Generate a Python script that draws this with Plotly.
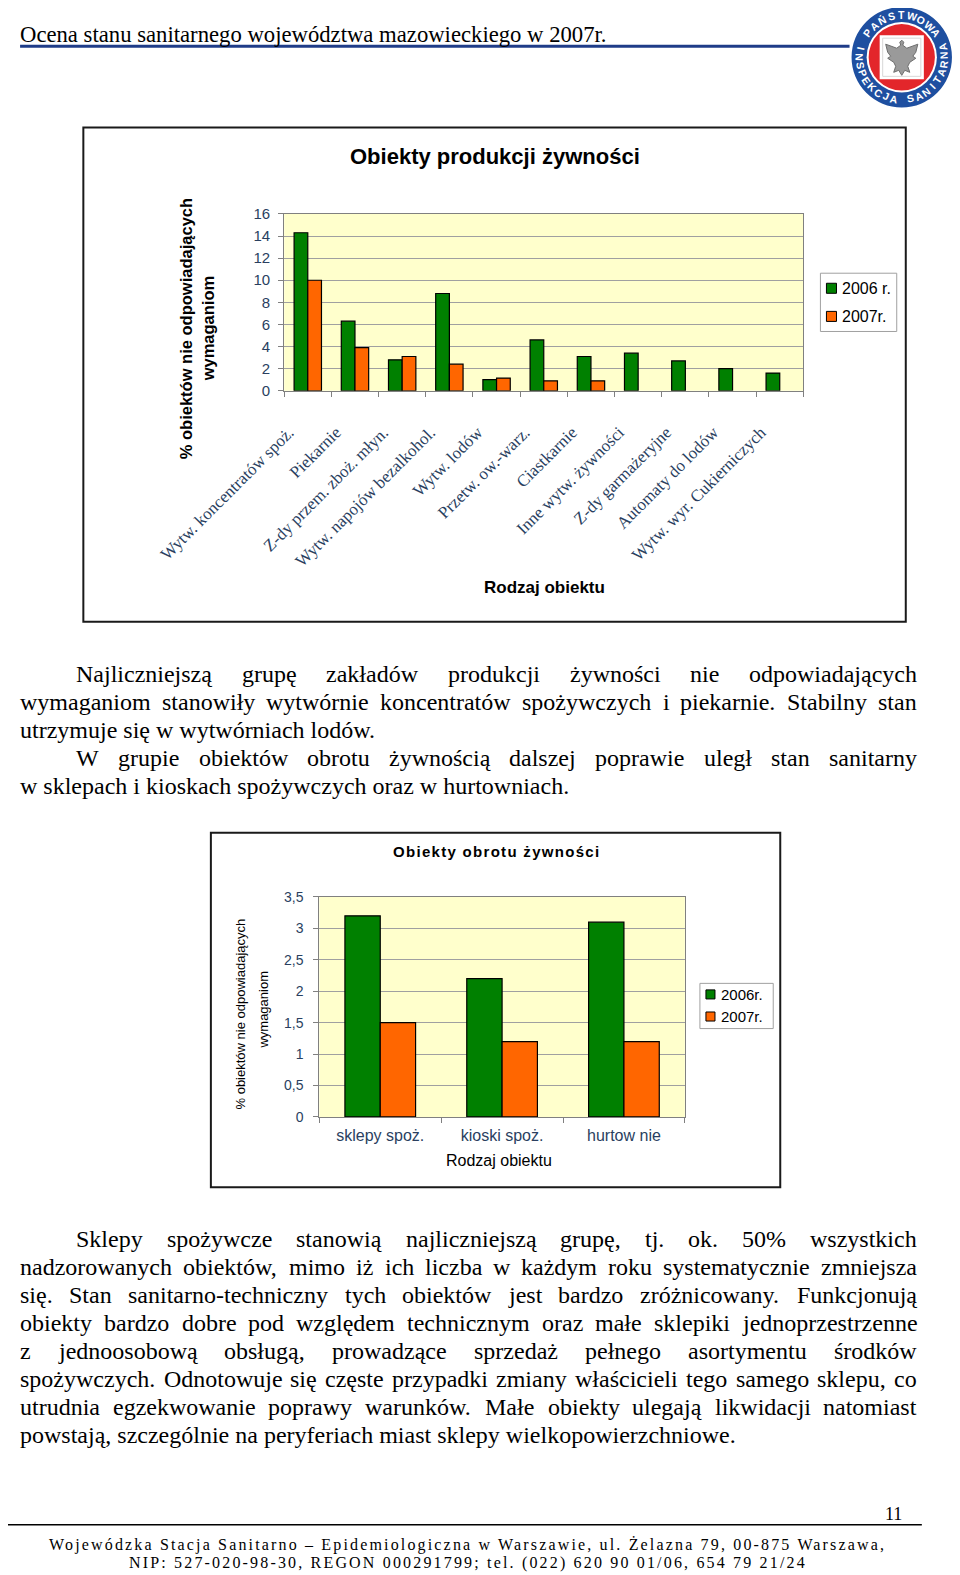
import math
import plotly.graph_objects as go

W, H = 960, 1575
SANS = "Liberation Sans"
SERIF = "Liberation Serif"

# ---- chart 1: Obiekty produkcji żywności
prod_cats = ["Wytw. koncentratów spoż.", "Piekarnie", "Z-dy przem. zboż. młyn.",
             "Wytw. napojów bezalkohol.", "Wytw. lodów", "Przetw. ow.-warz.",
             "Ciastkarnie", "Inne wytw. żywności", "Z-dy garmażeryjne",
             "Automaty do lodów", "Wytw. wyr. Cukierniczych"]
prod_2006 = [14.3, 6.3, 2.8, 8.8, 1.0, 4.6, 3.1, 3.4, 2.7, 2.0, 1.6]
prod_2007 = [10.0, 3.9, 3.1, 2.4, 1.15, 0.9, 0.9, None, None, None, None]
prod_ticks = [0, 2, 4, 6, 8, 10, 12, 14, 16]
prod_names = ["2006 r.", "2007r."]

# ---- chart 2: Obiekty obrotu żywności
obr_cats = ["sklepy spoż.", "kioski spoż.", "hurtow nie"]
obr_2006 = [3.2, 2.2, 3.1]
obr_2007 = [1.5, 1.2, 1.2]
obr_tickvals = [0, 0.5, 1, 1.5, 2, 2.5, 3, 3.5]
obr_ticktext = ["0", "0,5", "1", "1,5", "2", "2,5", "3", "3,5"]
obr_names = ["2006r.", "2007r."]

GREEN, ORANGE = "#008000", "#FF6600"
YELLOW = "#FFFFCC"
GRID = "#a0a0a0"

# ---- page text
header = "Ocena stanu sanitarnego województwa mazowieckiego w 2007r."
para1 = [
    ("Najliczniejszą grupę zakładów produkcji żywności nie odpowiadających", 76, True),
    ("wymaganiom stanowiły wytwórnie koncentratów spożywczych i piekarnie. Stabilny stan", 20, True),
    ("utrzymuje się w wytwórniach lodów.", 20, False),
    ("W grupie obiektów obrotu żywnością dalszej poprawie uległ stan sanitarny", 76, True),
    ("w sklepach i kioskach spożywczych oraz w hurtowniach.", 20, False),
]
para2 = [
    ("Sklepy spożywcze stanowią najliczniejszą grupę, tj. ok. 50% wszystkich", 76, True),
    ("nadzorowanych obiektów, mimo iż ich liczba w każdym roku systematycznie zmniejsza", 20, True),
    ("się. Stan sanitarno-techniczny tych obiektów jest bardzo zróżnicowany. Funkcjonują", 20, True),
    ("obiekty bardzo dobre pod względem technicznym oraz małe sklepiki jednoprzestrzenne", 20, True),
    ("z jednoosobową obsługą, prowadzące sprzedaż pełnego asortymentu środków", 20, True),
    ("spożywczych. Odnotowuje się częste przypadki zmiany właścicieli tego samego sklepu, co", 20, True),
    ("utrudnia egzekwowanie poprawy warunków. Małe obiekty ulegają likwidacji natomiast", 20, True),
    ("powstają, szczególnie na peryferiach miast sklepy wielkopowierzchniowe.", 20, False),
]
footer1 = "Wojewódzka Stacja Sanitarno – Epidemiologiczna w Warszawie, ul. Żelazna 79, 00-875 Warszawa,"
footer2 = "NIP: 527-020-98-30, REGON 000291799; tel. (022) 620 90 01/06, 654 79 21/24"

# Times New Roman advance widths (em) - Liberation Serif is metric compatible
TW = dict(zip("abcdefghijklmnopqrstuvwxyz",
              [.444, .5, .444, .5, .444, .333, .5, .5, .278, .278, .5, .278, .778,
               .5, .5, .5, .5, .333, .389, .278, .5, .5, .722, .5, .5, .444]))
TW.update(zip("ABCDEFGHIJKLMNOPQRSTUVWXYZ",
              [.722, .667, .667, .722, .611, .556, .722, .722, .333, .389, .722, .611, .889,
               .722, .722, .556, .722, .667, .556, .611, .722, .722, .944, .722, .722, .611]))
TW.update({d: .5 for d in "0123456789"})
TW.update({" ": .25, ".": .25, ",": .25, "-": .333, "%": .833, ":": .278, ";": .278,
           "(": .333, ")": .333, "/": .278, "–": .5})
for pl, base in zip("ąćęłńóśźżŻŚŁ", "acelnoszzZSL"):
    TW[pl] = TW[base]

SX, SY, OFF = 960 / 956, 1575 / 1568, 8


def tw(s, size):
    return sum(TW.get(c, .5) for c in s) * size


def fx(x):
    return (x * SX - OFF) / W


def fy(y):
    return 1 - (y * SY - OFF) / H


annotations = []
shapes = []


def note(x, y, text, size, family=SANS, xanchor="center", yanchor="middle", angle=0, color="black"):
    annotations.append(dict(x=fx(x), y=fy(y), xref="paper", yref="paper", text=text,
                            showarrow=False, xanchor=xanchor, yanchor=yanchor, textangle=angle,
                            font=dict(family=family, size=size, color=color),
                            borderpad=0, borderwidth=0))


def rect(x0, y0, x1, y1, line=None, width=1, fill=None):
    shapes.append(dict(type="rect", xref="paper", yref="paper",
                       x0=fx(x0), x1=fx(x1), y0=fy(y1), y1=fy(y0),
                       line=dict(color=line or "rgba(0,0,0,0)", width=width if line else 0),
                       fillcolor=fill or "rgba(0,0,0,0)", layer="above"))


def circle(cx, cy, r, fill):
    shapes.append(dict(type="circle", xref="paper", yref="paper",
                       x0=fx(cx - r), x1=fx(cx + r), y0=fy(cy + r), y1=fy(cy - r),
                       line=dict(width=0), fillcolor=fill, layer="above"))


def hline(x0, x1, y, color, width):
    shapes.append(dict(type="line", xref="paper", yref="paper", x0=fx(x0), x1=fx(x1),
                       y0=fy(y), y1=fy(y), line=dict(color=color, width=width), layer="above"))


# justified body text, one annotation per word
FS = 24
RIGHT = 913


def write_par(lines, y0, step=28):
    for i, (text, x0, just) in enumerate(lines):
        y = y0 + i * step
        if not just:
            note(x0, y, text, FS, SERIF, xanchor="left")
            continue
        words = text.split()
        widths = [tw(w, FS) / SX for w in words]
        gap = (RIGHT - x0 - sum(widths)) / (len(words) - 1)
        x = x0
        for w, wd in zip(words, widths):
            note(x, y, w, FS, SERIF, xanchor="left")
            x += wd + gap


# ---- header
note(20, 34, header, 22.7, SERIF, xanchor="left")
hline(20, 846, 46, "#1f3c88", 3)

# logo
LX, LY = 898, 57
circle(LX, LY, 50, "#1e4fa0")
circle(LX, LY, 35, "white")
circle(LX, LY, 33, "#e3262b")
rect(876, 35, 920, 79, fill="white")
rect(879, 38, 917, 76, line="#d8d8d8", width=1)
eagle = ("M898,40 L900,42 L899,45 L903,48 L914,44 L912,52 L909,56 L912,58 L906,62 "
         "L904,66 L906,72 L901,70 L898,75 L895,70 L890,72 L892,66 L890,62 L884,58 "
         "L887,56 L884,52 L882,44 L893,48 L897,45 L896,42 Z")
pts = eagle.replace("M", "").replace("Z", "").split(" L")
path = "M" + " L".join(f"{fx(float(p.split(',')[0])):.5f},{fy(float(p.split(',')[1])):.5f}"
                       for p in pts) + " Z"
shapes.append(dict(type="path", xref="paper", yref="paper", path=path,
                   fillcolor="#9a9a9a", line=dict(color="#6e6e6e", width=1), layer="above"))
for text, a0, a1, top in [("PAŃSTWOWA", 145, 35, True), ("INSPEKCJA SANITARNA", 168, 374, False)]:
    n = len(text)
    for k, ch in enumerate(text):
        th = a0 + (a1 - a0) * k / (n - 1)
        r = 42
        x = LX + r * math.cos(math.radians(th))
        y = LY - r * math.sin(math.radians(th))
        ang = 90 - th if top else 270 - th
        if ch != " ":
            note(x, y, f"<b>{ch}</b>", 10.5, SANS, angle=ang, color="white")

# ---- chart 1 frame and texts
rect(83, 127, 902, 619, line="#1a1a1a", width=2)
note(493, 156, "<b>Obiekty produkcji żywności</b>", 22)
note(186, 327, "<b>% obiektów nie odpowiadających</b>", 16.5, angle=-90)
note(208, 327, "<b>wymaganiom</b>", 16.5, angle=-90)
note(542, 585, "<b>Rodzaj obiektu</b>", 17)
rect(817, 272, 893, 330, line="#a0a0a0", width=1, fill="white")
for i, (nm, col) in enumerate(zip(prod_names, [GREEN, ORANGE])):
    yy = 287 + 28 * i
    rect(823, yy - 5, 833, yy + 5, line="black", width=1, fill=col)
    note(838, yy, nm, 16, xanchor="left")

# ---- body paragraphs
write_par(para1, 671)

# ---- chart 2 frame and texts
rect(210, 829, 777, 1182, line="#1a1a1a", width=2)
note(494, 848, '<b><span style="letter-spacing:1.3px">Obiekty obrotu żywności</span></b>', 15)
note(240, 1010, "% obiektów nie odpowiadających", 13, angle=-90)
note(262, 1005, "wymaganiom", 13, angle=-90)
note(497, 1155, "Rodzaj obiektu", 16)
rect(697, 979, 770, 1024, line="#a0a0a0", width=1, fill="white")
for i, (nm, col) in enumerate(zip(obr_names, [GREEN, ORANGE])):
    yy = 990 + 22 * i
    rect(703, yy - 4.5, 712, yy + 4.5, line="black", width=1, fill=col)
    note(718, yy, nm, 15, xanchor="left")

write_par(para2, 1233)

# ---- footer
hline(0, 918, 1518, "black", 1.5)
note(890, 1507, "11", 18, SERIF)
for text, y, target in [(footer1, 1538, 836), (footer2, 1556, 673)]:
    ls = (target * SX - tw(text, 16)) / (len(text) - 1)
    note(466, y, f'<span style="letter-spacing:{ls:.2f}px">{text}</span>', 16, SERIF)

# ---- bars
fig = go.Figure()
for vals, nm, col in [(prod_2006, prod_names[0], GREEN), (prod_2007, prod_names[1], ORANGE)]:
    fig.add_trace(go.Bar(x=prod_cats, y=vals, name=nm, marker=dict(color=col, line=dict(color="black", width=1.2)),
                         xaxis="x", yaxis="y", hoverinfo="x+y"))
for vals, nm, col in [(obr_2006, obr_names[0], GREEN), (obr_2007, obr_names[1], ORANGE)]:
    fig.add_trace(go.Bar(x=obr_cats, y=vals, name=nm, marker=dict(color=col, line=dict(color="black", width=1.2)),
                         xaxis="x2", yaxis="y2", hoverinfo="x+y"))

axis_common = dict(showline=True, linecolor="#808080", mirror=True, ticks="outside",
                   ticklen=5, tickcolor="#808080", automargin=False)
fig.update_layout(
    width=W, height=H, margin=dict(l=0, r=0, t=0, b=0, pad=0, autoexpand=False),
    paper_bgcolor="white", plot_bgcolor=YELLOW,
    showlegend=False, barmode="group", bargap=0.42, bargroupgap=0,
    xaxis=dict(domain=[fx(283), fx(800)], anchor="y", type="category", tickangle=-45,
               tickson="boundaries", showgrid=False, tickfont=dict(family=SERIF, size=17),
               ticklabelstandoff=24, ticklabelshift=-19, **axis_common),
    yaxis=dict(domain=[fy(389), fy(213)], anchor="x", range=[0, 16], tickvals=prod_ticks,
               gridcolor=GRID, zeroline=False, tickfont=dict(family=SANS, size=15),
               ticklabelstandoff=5, **axis_common),
    xaxis2=dict(domain=[fx(318), fx(682)], anchor="y2", type="category", tickangle=0,
                tickson="boundaries", showgrid=False, tickfont=dict(family=SANS, size=16),
                ticklabelstandoff=4, **axis_common),
    yaxis2=dict(domain=[fy(1112), fy(893)], anchor="x2", range=[0, 3.5], tickvals=obr_tickvals,
                ticktext=obr_ticktext, gridcolor=GRID, zeroline=False,
                tickfont=dict(family=SANS, size=14), ticklabelstandoff=7, **axis_common),
    annotations=annotations, shapes=shapes,
)

fig.write_html("out.html")
